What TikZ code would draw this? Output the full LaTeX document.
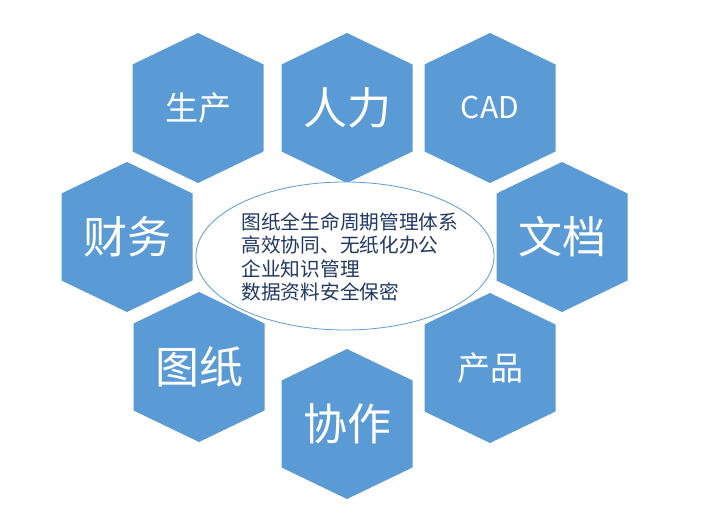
\documentclass[tikz,border=0pt]{standalone}
\usepackage{fontspec}
\newfontfamily\cjk{Noto Sans CJK SC}
\usetikzlibrary{shapes.geometric, positioning}
\definecolor{hexblue}{RGB}{91,155,213}
\definecolor{textnavy}{RGB}{32,56,100}

\begin{document}
\begin{tikzpicture}[
    x=1pt, y=1pt,
    every node/.style={align=center},
    hexfill/.style={fill=hexblue},
    biglabel/.style={text=white, font=\cjk\fontsize{44}{48}\selectfont},
    smalllabel/.style={text=white, font=\cjk\fontsize{33}{36}\selectfont},
    latinlabel/.style={text=white, font=\cjk\fontsize{30}{34}\selectfont},
    centre/.style={ellipse, draw=hexblue, line width=0.8pt, fill=white, minimum width=298pt, minimum height=148pt},
    summary/.style={align=left, text=textnavy, font=\cjk\fontsize{19.7}{23.5}\selectfont}
]
\useasboundingbox (0,0) rectangle (720,524);

% Hexagons
\foreach \name/\x/\y/\txt/\sty in {
    shengchan/198/416/生产/smalllabel,
    renli/347/416/人力/biglabel,
    cad/490/416/CAD/latinlabel,
    caiwu/127/287/财务/biglabel,
    wendang/562/287/文档/biglabel,
    tuzhi/199/157/图纸/biglabel,
    chanpin/490/156/产品/smalllabel,
    xiezuo/347/100/协作/biglabel}
{
    \fill[hexfill] (\x,\y) ++(0,75) -- ++(65.5,-31.5) -- ++(0,-87)
        -- ++(-65.5,-31.5) -- ++(-65.5,31.5) -- ++(0,87) -- cycle;
    \node[\sty] (\name) at (\x,\y) {\txt};
}

% Centre
\node[centre] (core) at (345,268) {};
\node[summary, anchor=west] (goals) at (238,267)
    {图纸全生命周期管理体系\\高效协同、无纸化办公\\企业知识管理\\数据资料安全保密};

\end{tikzpicture}
\end{document}
